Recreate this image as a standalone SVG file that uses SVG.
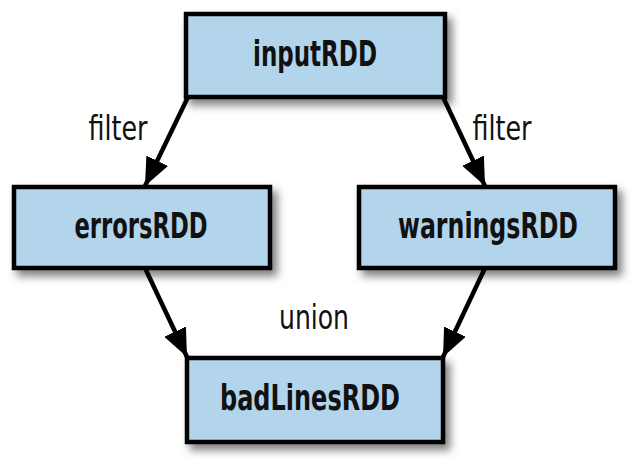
<svg xmlns="http://www.w3.org/2000/svg" width="644" height="469" viewBox="0 0 644 469">
<style>
.box{fill:#b3d5ec;stroke:#000;stroke-width:4.5;filter:url(#sh)}
.nt{font-family:"Liberation Sans Narrow","DejaVu Sans Condensed","Liberation Sans",sans-serif;font-weight:bold;font-size:35px;fill:#111;text-anchor:middle}
.lt{font-family:"Liberation Sans Narrow","DejaVu Sans Condensed","Liberation Sans",sans-serif;font-size:33px;fill:#111;text-anchor:middle}
.edge{stroke:#000;stroke-width:4.5;fill:none;marker-end:url(#ah)}
</style>
<defs>
<filter id="sh" x="-10%" y="-20%" width="130%" height="150%">
<feDropShadow dx="5" dy="6" stdDeviation="4" flood-color="#000" flood-opacity="0.5"/>
</filter>
<marker id="ah" markerUnits="userSpaceOnUse" markerWidth="30" markerHeight="30" viewBox="0 0 30 30" refX="28" refY="15" orient="auto">
<path d="M0,3 L28,15 L0,27 Z" fill="#000"/>
</marker>
</defs>
<rect width="644" height="469" fill="#fff"/>
<g id="connectors">
<line class="edge" x1="188" y1="97" x2="145" y2="186"/>
<line class="edge" x1="443" y1="97" x2="485" y2="186"/>
<line class="edge" x1="145" y1="268" x2="187" y2="357"/>
<line class="edge" x1="485" y1="268" x2="443" y2="357"/>
<text class="lt" x="118" y="140" textLength="59" lengthAdjust="spacingAndGlyphs">filter</text>
<text class="lt" x="502" y="140" textLength="59" lengthAdjust="spacingAndGlyphs">filter</text>
<text class="lt" x="314" y="329" textLength="70" lengthAdjust="spacingAndGlyphs">union</text>
</g>
<g id="inputRDD">
<rect class="box" x="186" y="14" width="259" height="83"/>
<text class="nt" x="315" y="66" textLength="124" lengthAdjust="spacingAndGlyphs">inputRDD</text>
</g>
<g id="errorsRDD">
<rect class="box" x="14" y="187" width="256" height="81"/>
<text class="nt" x="141" y="238" textLength="133" lengthAdjust="spacingAndGlyphs">errorsRDD</text>
</g>
<g id="warningsRDD">
<rect class="box" x="359" y="187" width="256" height="81"/>
<text class="nt" x="488" y="238" textLength="180" lengthAdjust="spacingAndGlyphs">warningsRDD</text>
</g>
<g id="badLinesRDD">
<rect class="box" x="187" y="358" width="256" height="84"/>
<text class="nt" x="310" y="410" textLength="180" lengthAdjust="spacingAndGlyphs">badLinesRDD</text>
</g>
</svg>
